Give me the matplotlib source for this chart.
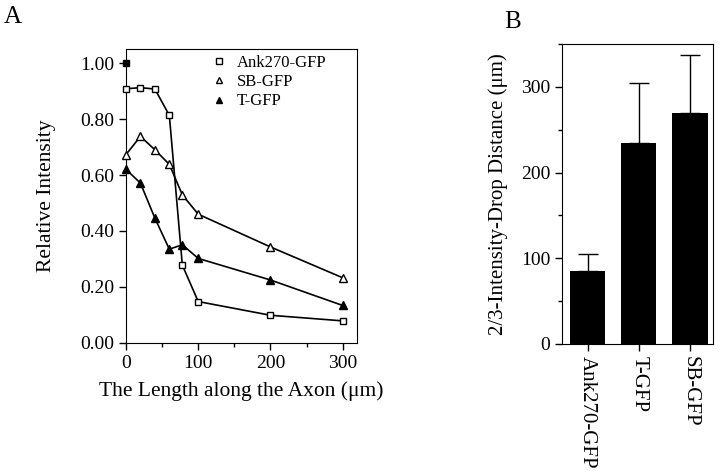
import matplotlib

matplotlib.use("Agg")
import matplotlib.pyplot as plt
from matplotlib.ticker import FormatStrFormatter, MultipleLocator

plt.rcParams["font.family"] = ["Liberation Serif", "DejaVu Serif"]

# Panel A: relative intensity along the axon
ank_x = [0, 20, 40, 60, 78, 100, 200, 300]
ank_y = [0.908, 0.912, 0.907, 0.813, 0.278, 0.148, 0.099, 0.079]
sb_x = [0, 20, 40, 60, 78, 100, 200, 300]
sb_y = [0.673, 0.738, 0.690, 0.638, 0.529, 0.460, 0.343, 0.233]
t_x = [0, 20, 40, 60, 78, 100, 200, 300]
t_y = [0.620, 0.571, 0.446, 0.335, 0.351, 0.302, 0.225, 0.134]
ref_x = [0]
ref_y = [1.00]

# Panel B: 2/3 intensity drop distance
constructs = ["Ank270-GFP", "T-GFP", "SB-GFP"]
drop_dist = [85, 235, 270]
drop_err = [20, 70, 67]

fig = plt.figure(figsize=(7.2, 4.74), dpi=100)

# ---- A ----
ax = fig.add_axes([0.175, 0.2764, 0.321, 0.6202])
ax.plot(ank_x, ank_y, "k-", marker="s", mfc="white", mec="black", ms=4.8, mew=1.0, lw=1.2,
        label="Ank270-GFP", clip_on=False, zorder=3)
ax.plot(sb_x, sb_y, "k-", marker="^", mfc="white", mec="black", ms=5.8, mew=1.0, lw=1.2,
        label="SB-GFP", clip_on=False, zorder=3)
ax.plot(t_x, t_y, "k-", marker="^", mfc="black", mec="black", ms=5.8, mew=1.0, lw=1.2,
        label="T-GFP", clip_on=False, zorder=3)
ax.plot(ref_x, ref_y, "ks", ms=4.8, clip_on=False, zorder=4)

ax.set_xlim(0, 320)
ax.set_ylim(0, 1.05)
ax.xaxis.set_major_locator(MultipleLocator(100))
ax.xaxis.set_minor_locator(MultipleLocator(50))
ax.yaxis.set_major_locator(MultipleLocator(0.2))
ax.yaxis.set_major_formatter(FormatStrFormatter("%.2f"))
ax.tick_params(direction="out", labelsize=14, length=5, width=1)
ax.tick_params(which="minor", direction="out", length=3, width=1)
ax.set_xlabel("The Length along the Axon (\u03bcm)", fontsize=15.5, labelpad=7)
ax.set_ylabel("Relative Intensity", fontsize=15.5, labelpad=17)
ax.legend(loc="upper left", frameon=False, fontsize=12, handlelength=0.6,
          handletextpad=0.8, labelspacing=0.2, borderaxespad=0.0,
          bbox_to_anchor=(0.35, 1.003))
leg = ax.get_legend()
for h in leg.legend_handles:
    h.set_linestyle("none")
    h.set_markersize(4.5)
fig.text(0.005, 0.952, "A", fontsize=18)

# ---- B ----
bx = fig.add_axes([0.7806, 0.2743, 0.2097, 0.6327])
pos = list(range(len(constructs)))
bx.bar(pos, drop_dist, width=0.69, color="black", zorder=2)
bx.errorbar(pos, drop_dist, yerr=[[0] * len(drop_err), drop_err], fmt="none",
            ecolor="black", elinewidth=1, capsize=7, capthick=1, zorder=1)
bx.set_xlim(-0.5, 2.45)
bx.set_ylim(0, 350)
bx.yaxis.set_major_locator(MultipleLocator(100))
bx.yaxis.set_minor_locator(MultipleLocator(50))
bx.set_xticks(pos)
bx.set_xticklabels(constructs, rotation=-90, fontsize=15)
bx.tick_params(direction="out", labelsize=14, length=5, width=1)
bx.tick_params(axis="x", labelsize=15)
bx.tick_params(which="minor", direction="out", length=3, width=1)
bx.set_ylabel("2/3-Intensity-Drop Distance (\u03bcm)", fontsize=15, labelpad=9)
fig.text(0.700, 0.94, "B", fontsize=18)

fig.savefig("out.png", dpi=100)
